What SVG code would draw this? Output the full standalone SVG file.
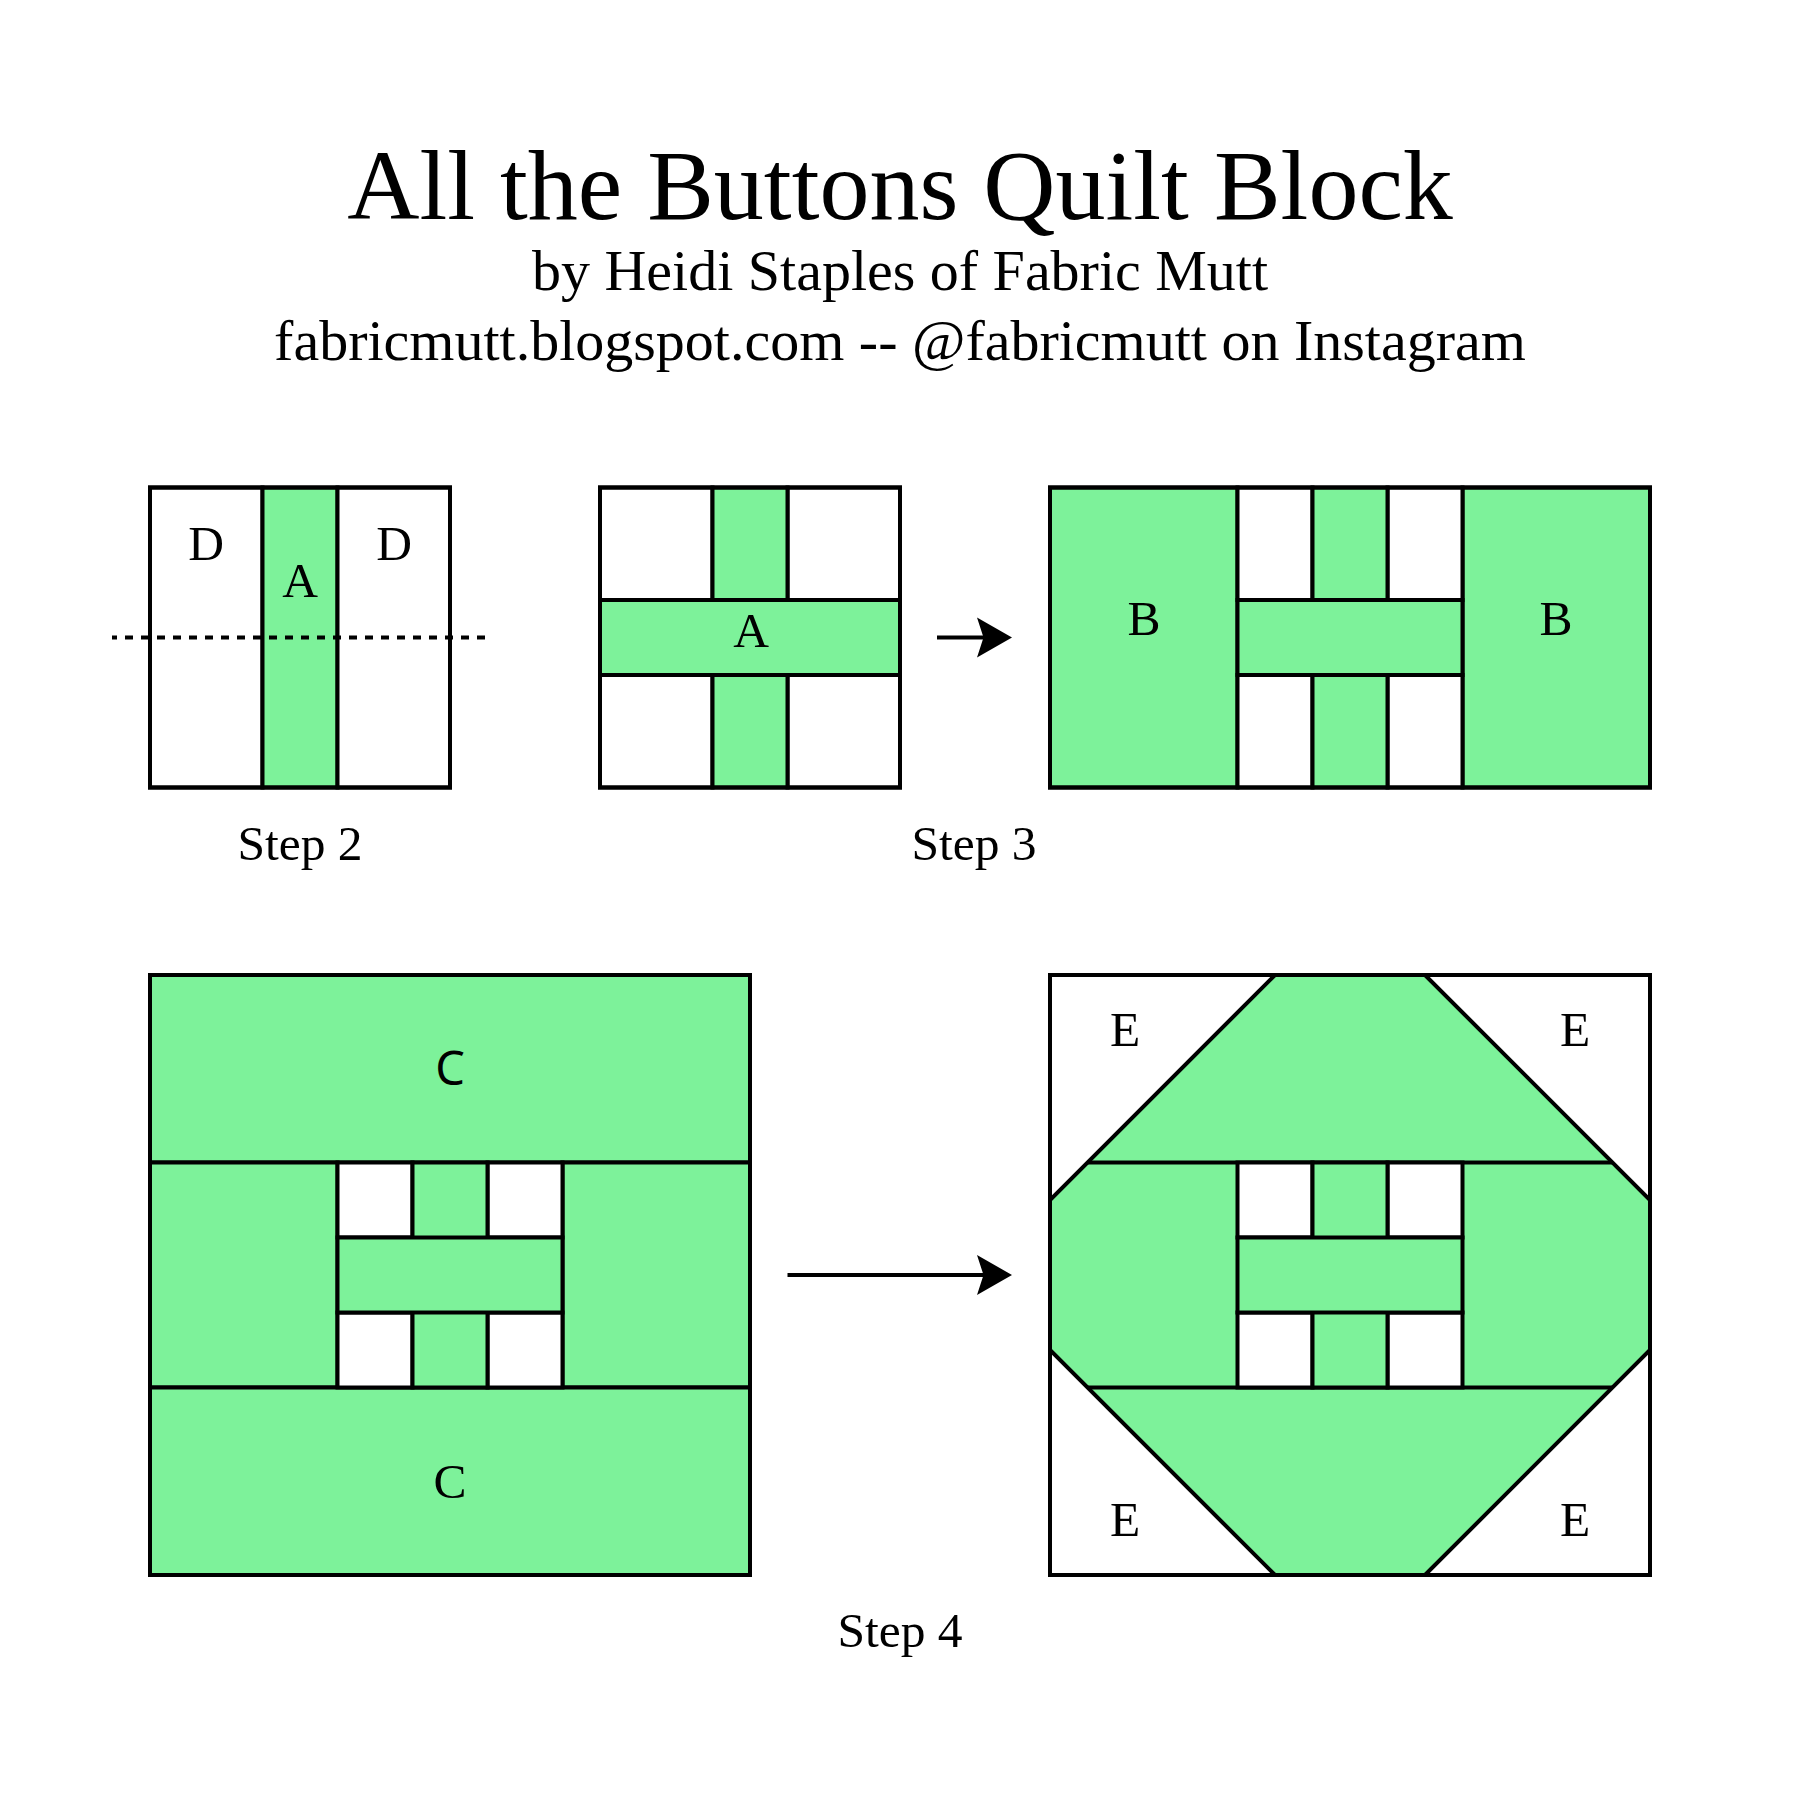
<svg xmlns="http://www.w3.org/2000/svg" width="1800" height="1800" viewBox="0 0 1800 1800">
<defs>
<style>
.g{fill:#7DF29A;stroke:#000;stroke-width:4}
.w{fill:#fff;stroke:#000;stroke-width:4}
.o{fill:none;stroke:#000;stroke-width:4}
.ln{stroke:#000;stroke-width:4;fill:none}
.t{font-family:"Liberation Serif","Times New Roman",serif;fill:#000;text-anchor:middle}
.lab{font-size:49.5px}
.s{font-family:"Noto Sans","Open Sans",sans-serif;fill:#000;text-anchor:middle;font-size:47px}
.ah{fill:#000}
</style>
</defs>
<rect x="0" y="0" width="1800" height="1800" fill="#fff"/>

<g id="title">
<text class="t" x="900" y="219" font-size="100">All the Buttons Quilt Block</text>
<text class="t" x="900" y="290" font-size="58">by Heidi Staples of Fabric Mutt</text>
<text class="t" x="900" y="360" font-size="58">fabricmutt.blogspot.com -- @fabricmutt on Instagram</text>
</g>

<g id="step2">
<rect class="w" x="150" y="487.5" width="112.5" height="300"/>
<rect class="g" x="262.5" y="487.5" width="75" height="300"/>
<rect class="w" x="337.5" y="487.5" width="112.5" height="300"/>
<rect class="o" x="150" y="487.5" width="300" height="300"/>
<line x1="112" y1="637.5" x2="491" y2="637.5" stroke="#000" stroke-width="4" stroke-dasharray="8 8" stroke-dashoffset="3"/>
<text class="t lab" x="206" y="560">D</text>
<text class="t lab" x="300" y="597">A</text>
<text class="t lab" x="394" y="560">D</text>
<text class="t lab" x="300" y="860">Step 2</text>
</g>

<g id="step3-left">
<rect class="w" x="600" y="487.5" width="112.5" height="112.5"/>
<rect class="w" x="787.5" y="487.5" width="112.5" height="112.5"/>
<rect class="w" x="600" y="675" width="112.5" height="112.5"/>
<rect class="w" x="787.5" y="675" width="112.5" height="112.5"/>
<rect class="g" x="712.5" y="487.5" width="75" height="300"/>
<rect class="g" x="600" y="600" width="300" height="75"/>
<rect class="o" x="600" y="487.5" width="300" height="300"/>
<text class="t lab" x="751" y="647">A</text>
</g>

<g id="step3-right">
<rect class="g" x="1050" y="487.5" width="187.5" height="300"/>
<rect class="g" x="1462.5" y="487.5" width="187.5" height="300"/>
<rect class="w" x="1237.5" y="487.5" width="75" height="112.5"/>
<rect class="w" x="1387.5" y="487.5" width="75" height="112.5"/>
<rect class="w" x="1237.5" y="675" width="75" height="112.5"/>
<rect class="w" x="1387.5" y="675" width="75" height="112.5"/>
<rect class="g" x="1312.5" y="487.5" width="75" height="300"/>
<rect class="g" x="1237.5" y="600" width="225" height="75"/>
<rect class="o" x="1050" y="487.5" width="600" height="300"/>
<text class="t lab" x="1144" y="635">B</text>
<text class="t lab" x="1556" y="635">B</text>
</g>
<text id="step3-label" class="t lab" x="974" y="860">Step 3</text>

<g id="step4-left">
<rect class="g" x="150" y="975" width="600" height="187.5"/>
<rect class="g" x="150" y="1162.5" width="187.5" height="225"/>
<rect class="g" x="562.5" y="1162.5" width="187.5" height="225"/>
<rect class="g" x="150" y="1387.5" width="600" height="187.5"/>
<rect class="w" x="337.5" y="1162.5" width="75" height="75"/>
<rect class="w" x="487.5" y="1162.5" width="75" height="75"/>
<rect class="w" x="337.5" y="1312.5" width="75" height="75"/>
<rect class="w" x="487.5" y="1312.5" width="75" height="75"/>
<rect class="g" x="412.5" y="1162.5" width="75" height="225"/>
<rect class="g" x="337.5" y="1237.5" width="225" height="75"/>
<rect class="o" x="150" y="975" width="600" height="600"/>
<text class="s" x="450" y="1085">C</text>
<text class="t lab" x="450" y="1498">C</text>
</g>

<g id="step4-right">
<rect class="w" x="1050" y="975" width="600" height="600"/>
<polygon class="g" points="1275,975 1425,975 1650,1200 1650,1350 1425,1575 1275,1575 1050,1350 1050,1200"/>
<line class="ln" x1="1087.5" y1="1162.5" x2="1612.5" y2="1162.5"/>
<line class="ln" x1="1087.5" y1="1387.5" x2="1612.5" y2="1387.5"/>
<rect class="w" x="1237.5" y="1162.5" width="75" height="75"/>
<rect class="w" x="1387.5" y="1162.5" width="75" height="75"/>
<rect class="w" x="1237.5" y="1312.5" width="75" height="75"/>
<rect class="w" x="1387.5" y="1312.5" width="75" height="75"/>
<rect class="g" x="1312.5" y="1162.5" width="75" height="225"/>
<rect class="g" x="1237.5" y="1237.5" width="225" height="75"/>
<rect class="o" x="1050" y="975" width="600" height="600"/>
<text class="t lab" x="1125" y="1046">E</text>
<text class="t lab" x="1575" y="1046">E</text>
<text class="t lab" x="1125" y="1536">E</text>
<text class="t lab" x="1575" y="1536">E</text>
</g>
<text id="step4-label" class="t lab" x="900" y="1647">Step 4</text>

<g id="connectors">
<line class="ln" x1="937" y1="637.5" x2="985" y2="637.5"/>
<polygon class="ah" points="1012,637.5 977,617.5 983.5,637.5 977,657.5"/>
<line class="ln" x1="787.5" y1="1275" x2="985" y2="1275"/>
<polygon class="ah" points="1012,1275 977,1255 983.5,1275 977,1295"/>
</g>
</svg>
